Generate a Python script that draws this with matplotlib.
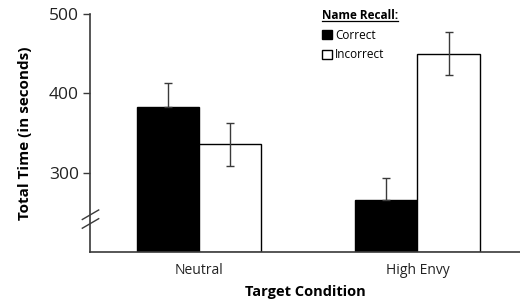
import matplotlib.pyplot as plt
import numpy as np
from matplotlib.patches import Patch
from matplotlib.lines import Line2D

# datos
condiciones = ["Neutral", "High Envy"]
correcto = [383, 265]
incorrecto = [336, 450]
err_correcto = [30, 28]
err_incorrecto = [27, 27]

plt.rcParams['font.family'] = ['Open Sans', 'DejaVu Sans']
gris = '#3a3a3a'

fig = plt.figure(figsize=(5.2, 3.04), dpi=100)
ax = fig.add_axes([0.173, 0.171, 0.827, 0.783])

x = np.arange(len(condiciones))
ancho = 0.285

ax.bar(x - ancho / 2, np.array(correcto) - 200, ancho, bottom=200,
       color='black', edgecolor='black', linewidth=1,
       yerr=[[0, 0], err_correcto], capsize=3,
       error_kw=dict(ecolor=gris, elinewidth=1, capthick=1))
ax.bar(x + ancho / 2, np.array(incorrecto) - 200, ancho, bottom=200,
       color='white', edgecolor='black', linewidth=1,
       yerr=err_incorrecto, capsize=3,
       error_kw=dict(ecolor=gris, elinewidth=1, capthick=1))

ax.set_ylim(200, 500)
ax.set_xlim(-0.5, 1.47)
ax.set_yticks([300, 400, 500])
ax.set_xticks(x)
ax.set_xticklabels(condiciones)
ax.tick_params(axis='x', length=0, pad=8, labelsize=10, colors='#222222')
ax.tick_params(axis='y', length=5, width=1, color=gris, pad=3, labelsize=12.5,
               labelcolor='#222222')

for lado in ['top', 'right']:
    ax.spines[lado].set_visible(False)
for lado in ['left', 'bottom']:
    ax.spines[lado].set_color(gris)
    ax.spines[lado].set_linewidth(1.2)

ax.set_ylabel("Total Time (in seconds)", fontsize=11, fontweight='bold', labelpad=12)
ax.set_xlabel("Target Condition", fontsize=10.5, fontweight='bold', labelpad=5)

# marcas de corte del eje
for yb in [236, 247]:
    ax.add_line(Line2D([-0.535, -0.46], [yb - 6, yb + 6], color=gris, lw=1,
                       transform=ax.transData, clip_on=False))

handles = [Patch(facecolor='black', edgecolor='black'),
           Patch(facecolor='white', edgecolor='black')]
leg = ax.legend(handles, ["Correct", "Incorrect"], title="Name Recall:",
                loc='upper left', bbox_to_anchor=(0.515, 1.065), frameon=False,
                fontsize=8.5, handlelength=0.8, handleheight=0.8,
                handletextpad=0.3, labelspacing=0.55, alignment='left')
leg.get_title().set_fontweight('bold')
leg.get_title().set_fontsize(8.5)

fig.canvas.draw()
bb = leg.get_title().get_window_extent().transformed(fig.transFigure.inverted())
fig.add_artist(Line2D([bb.x0, bb.x1], [bb.y0 + 0.003, bb.y0 + 0.003],
                      color='black', lw=0.9, transform=fig.transFigure))

fig.savefig('out.png', dpi=100)
plt.close()
